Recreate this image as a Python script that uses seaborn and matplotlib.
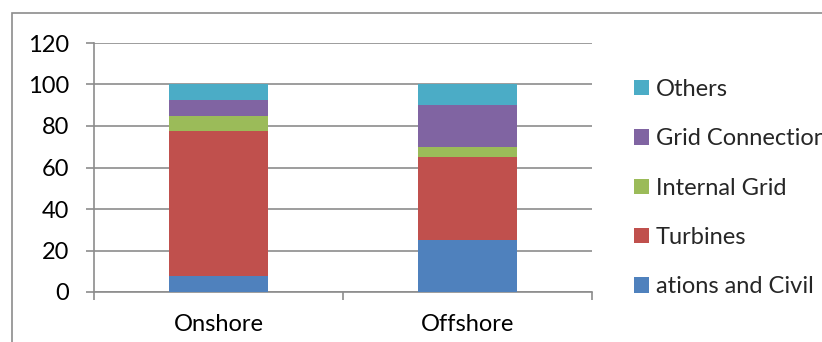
import matplotlib
matplotlib.use("Agg")
import matplotlib.pyplot as plt
from matplotlib.patches import Rectangle, Patch
import numpy as np
import pandas as pd
import seaborn as sns

categories = ["Onshore", "Offshore"]
series_names = ["ations and Civil", "Turbines", "Internal Grid", "Grid Connection", "Others"]
foundations = [7.5, 25]
turbines = [70, 40]
internal_grid = [7.5, 5]
grid_connection = [7.5, 20]
others = [7.5, 10]
colors = ["#4F81BD", "#C0504D", "#9BBB59", "#8064A2", "#4BACC6"]
y_ticks = [0, 20, 40, 60, 80, 100, 120]

sns.set_theme(style="white")
plt.rcParams["font.family"] = ["Lato", "DejaVu Sans"]

W, H = 822, 342
FS = 17
fig = plt.figure(figsize=(W / 100, H / 100), dpi=100)
ax = fig.add_axes([94 / W, (H - 292) / H, (592 - 94) / W, (292 - 43) / H])

layers = [foundations, turbines, internal_grid, grid_connection, others]
cum = np.cumsum(np.array(layers, dtype=float), axis=0)

# Stacked bars: draw cumulative totals from the top segment down
for i in range(len(layers) - 1, -1, -1):
    df = pd.DataFrame({"cat": categories, "val": cum[i]})
    sns.barplot(data=df, x="cat", y="val", color=colors[i], width=0.4,
                saturation=1, ax=ax, linewidth=0, zorder=3)

grid_color = "#8C8C8C"
ax.set_ylim(0, 120)
ax.set_xlim(-0.5, 1.5)
ax.set_yticks(y_ticks)
ax.set_yticklabels([str(v) for v in y_ticks])
ax.set_xlabel("")
ax.set_ylabel("")
ax.yaxis.grid(True, color=grid_color, linewidth=1.2, zorder=0)
ax.set_axisbelow(True)
for s in ["top", "right"]:
    ax.spines[s].set_visible(False)
for s in ["left", "bottom"]:
    ax.spines[s].set_color(grid_color)
    ax.spines[s].set_linewidth(1.2)

ax.tick_params(axis="y", which="major", length=6, width=1.2, color=grid_color,
               pad=12, labelsize=FS, left=True)
ax.set_xticks([-0.5, 0.5, 1.5], minor=True)
ax.tick_params(axis="x", which="minor", length=6, width=1.2, color=grid_color,
               bottom=True, direction="out")
ax.tick_params(axis="x", which="major", length=0, pad=16, labelsize=FS)
for lbl in ax.get_yticklabels() + ax.get_xticklabels():
    lbl.set_color("#000000")

# Legend, top entry first; the long labels run past the right edge of the chart area
handles = [Patch(facecolor=colors[i], edgecolor="none", label=series_names[i])
           for i in range(len(series_names) - 1, -1, -1)]
leg = fig.legend(handles=handles, loc="upper left",
                 bbox_to_anchor=(634 / W, (H - 79) / H),
                 frameon=False, fontsize=FS, handlelength=0.63, handleheight=0.63,
                 handletextpad=0.3, labelspacing=1.2, borderpad=0, borderaxespad=0)

# Chart-area border
border = Rectangle((12 / W, -0.2), 1.2, (H - 13) / H + 0.2, transform=fig.transFigure,
                   fill=False, edgecolor="#8C8C8C", linewidth=1.2, clip_on=False)
fig.patches.append(border)

fig.savefig("out.png", dpi=100)
